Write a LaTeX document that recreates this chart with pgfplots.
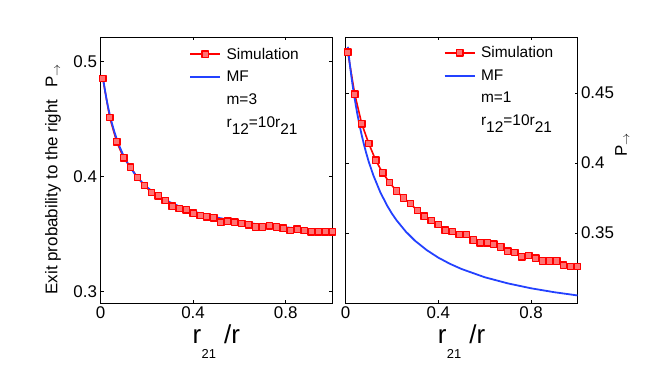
\documentclass[border=0pt]{standalone}
\usepackage{fontspec}
\setmainfont{Liberation Sans}
\usepackage{pgfplots}
\pgfplotsset{compat=1.18}
\definecolor{mfblue}{RGB}{35,65,255}
\definecolor{simred}{RGB}{255,0,0}
\newcommand{\xlab}{r\hspace{0.5bp}\raisebox{-15bp}{\fontsize{13}{13}\selectfont 21}\hspace{8bp}/r}
\pgfplotsset{
  mystyle/.style={
    clip=false,
    scale only axis, width=232bp, height=266bp,
    xmin=0, xmax=1,
    xtick={0,0.4,0.8}, xticklabels={0,0.4,0.8},
    tick align=inside, major tick length=3bp,
    tick style={black, line width=0.8pt},
    axis line style={line width=0.8pt},
    tick label style={font=\fontsize{17}{19}\selectfont},
    legend style={draw=none, fill=none, font=\fontsize{15.5}{18}\selectfont,
      anchor=north west, row sep=6.5bp, column sep=3.5bp, cells={anchor=west}},
    legend image code/.code={\draw[mark repeat=2,mark phase=2,##1] plot coordinates {(0bp,0bp) (15bp,0bp) (30bp,0bp)};},
    xlabel={\xlab},
    x label style={at={(axis description cs:0.5,0)}, anchor=base, yshift=-40bp, font=\fontsize{26}{28}\selectfont},
  },
  simstyle/.style={simred, line width=1.6pt, line join=round, mark=square*, mark size=3.2bp,
    mark options={draw=simred, fill=simred!55, line width=1.4pt}},
  mfstyle/.style={mfblue, line width=1.8pt, line join=round, no marks},
}
\begin{document}
\begin{tikzpicture}
\useasboundingbox (0,0) rectangle (664bp,379bp);
% ---------------- left panel ----------------
\begin{axis}[mystyle, at={(100.5bp,76bp)}, anchor=south west, width=231.5bp,
  ymin=0.29, ymax=0.521,
  ytick={0.3,0.4,0.5}, yticklabels={0.3,0.4,0.5},
  ylabel={Exit probability to the right\hspace{12bp}P$_{\rightarrow}$},
  y label style={at={(rel axis cs:-0.205,0.466)}, anchor=center, font=\fontsize{17}{19}\selectfont},
  legend style={at={(rel axis cs:0.37,0.975)}},
]
\addplot[simstyle] coordinates {
(0.01,0.485) (0.04,0.451) (0.07,0.430) (0.10,0.416) (0.13,0.408) (0.16,0.399)
(0.19,0.392) (0.22,0.386) (0.25,0.383) (0.28,0.379) (0.31,0.374) (0.34,0.372)
(0.37,0.371) (0.40,0.368) (0.43,0.366) (0.46,0.365) (0.49,0.364) (0.52,0.360)
(0.55,0.361) (0.58,0.360) (0.61,0.359) (0.64,0.358) (0.67,0.356) (0.70,0.356)
(0.73,0.357) (0.76,0.356) (0.79,0.355) (0.82,0.353) (0.85,0.354) (0.88,0.353)
(0.91,0.352) (0.94,0.352) (0.97,0.352) (1.00,0.352)};
\addlegendentry{Simulation}
\addplot[mfstyle] coordinates {
(0.01,0.4870) (0.015,0.4802) (0.02,0.4739) (0.025,0.4682) (0.03,0.4629) (0.035,0.4581)
(0.04,0.4536) (0.05,0.4456) (0.06,0.4386) (0.07,0.4324) (0.08,0.4270) (0.09,0.4222)
(0.10,0.4178) (0.12,0.4104) (0.15,0.4015) (0.18,0.3946) (0.20,0.3908) (0.22,0.3874)
(0.26,0.3819) (0.30,0.3775) (0.35,0.3731) (0.40,0.3696) (0.45,0.3667) (0.50,0.3643)
(0.60,0.3606) (0.70,0.3578) (0.80,0.3557) (0.90,0.3539) (1.00,0.3525)};
\addlegendentry{MF}
\addlegendimage{empty legend}\addlegendentry{m=3}
\addlegendimage{empty legend}\addlegendentry{r\raisebox{-7bp}{12}=10r\raisebox{-7bp}{21}}
\end{axis}
% ---------------- right panel ----------------
\begin{axis}[mystyle, at={(345.5bp,76bp)}, anchor=south west,
  ymin=0.300, ymax=0.490,
  ytick={0.35,0.4,0.45}, yticklabels={0.35,0.4,0.45},
  yticklabel pos=right,
  ylabel={P$_{\rightarrow}$},
  y label style={at={(rel axis cs:1.193,0.594)}, anchor=center, font=\fontsize{17}{19}\selectfont},
  legend style={at={(rel axis cs:0.41,0.98)}},
]
\addplot[simstyle] coordinates {
(0.01,0.479) (0.04,0.449) (0.07,0.428) (0.10,0.414) (0.13,0.402) (0.16,0.393)
(0.19,0.386) (0.22,0.380) (0.25,0.375) (0.28,0.371) (0.31,0.366) (0.34,0.362)
(0.37,0.359) (0.40,0.356) (0.43,0.352) (0.46,0.351) (0.49,0.349) (0.52,0.349)
(0.55,0.345) (0.58,0.343) (0.61,0.343) (0.64,0.342) (0.67,0.340) (0.70,0.337)
(0.73,0.336) (0.76,0.333) (0.79,0.334) (0.82,0.332) (0.85,0.330) (0.88,0.330)
(0.91,0.330) (0.94,0.327) (0.97,0.326) (1.00,0.326)};
\addlegendentry{Simulation}
\addplot[mfstyle] coordinates {
(0.01,0.4830) (0.015,0.4756) (0.02,0.4687) (0.025,0.4623) (0.03,0.4563) (0.035,0.4507)
(0.04,0.4455) (0.05,0.4359) (0.06,0.4274) (0.07,0.4198) (0.08,0.4129) (0.09,0.4067)
(0.10,0.4010) (0.12,0.3912) (0.15,0.3791) (0.18,0.3694) (0.20,0.3639) (0.22,0.3591)
(0.26,0.3510) (0.30,0.3444) (0.35,0.3378) (0.40,0.3324) (0.45,0.3280) (0.50,0.3243)
(0.60,0.3184) (0.70,0.3140) (0.80,0.3105) (0.90,0.3077) (1.00,0.3054)};
\addlegendentry{MF}
\addlegendimage{empty legend}\addlegendentry{m=1}
\addlegendimage{empty legend}\addlegendentry{r\raisebox{-7bp}{12}=10r\raisebox{-7bp}{21}}
\end{axis}
\end{tikzpicture}
\end{document}
